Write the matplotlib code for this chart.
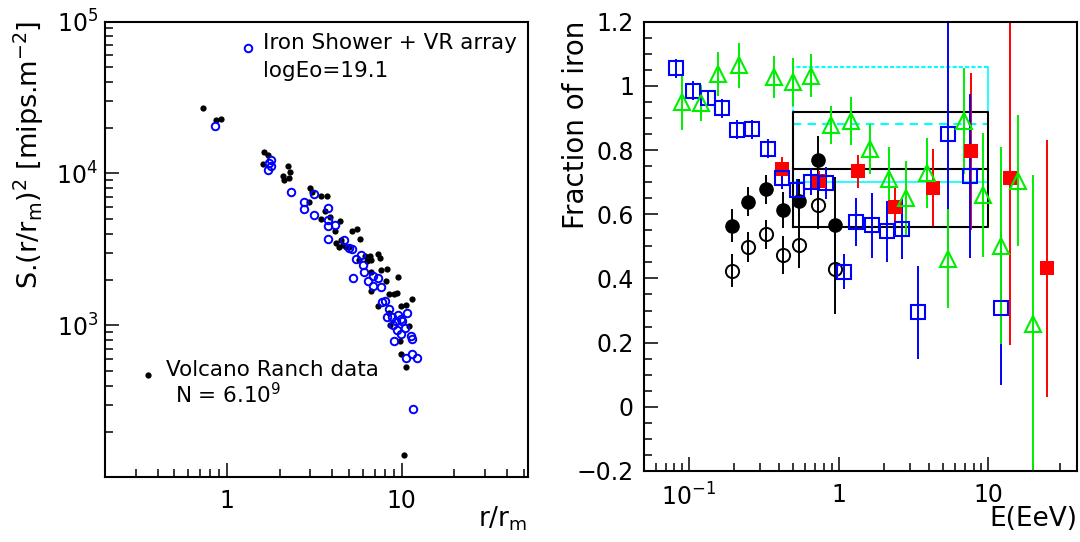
import numpy as np
import matplotlib.pyplot as plt
from matplotlib.ticker import FixedLocator, FixedFormatter, NullFormatter, LogLocator, MultipleLocator

plt.rcParams['font.family'] = ['DejaVu Sans']
plt.rcParams['mathtext.default'] = 'regular'

# left panel: Volcano Ranch events (black) and simulated iron shower (blue)
vr_r = [0.73, 0.865, 0.925, 1.63, 1.72, 1.60, 2.08, 2.12, 2.23, 2.30, 2.28,
        2.99, 3.07, 2.93, 3.47, 3.72, 3.63, 3.47, 4.13, 4.46, 4.52, 4.40,
        4.78, 5.23, 5.52, 5.81, 5.74, 6.14, 6.63, 6.70, 7.37, 7.54, 6.70,
        7.62, 8.26, 6.70, 7.37, 8.18, 8.45, 9.05, 9.6, 9.45, 8.5, 8.6, 9.9,
        10.6, 11.5, 11.1, 9.83, 9.9, 10.6, 10.3, 4.2, 4.6, 5.0, 6.3, 3.9]
vr_s = [27000, 22400, 22700, 13900, 13200, 11500, 9640, 9000, 11200, 10300, 9330,
        7980, 7570, 6460, 7060, 7060, 5690, 5030, 4170, 4860, 3670, 3270,
        3270, 4180, 4300, 3720, 2700, 2850, 2880, 2700, 2950, 2790, 2250,
        2310, 2370, 1690, 1350, 1950, 1620, 1600, 2090, 1640, 1215, 1010, 1350,
        1365, 1485, 995, 785, 645, 530, 141, 3500, 3400, 3300, 2650, 5200]

fe_r = [0.857, 1.71, 1.78, 1.79, 1.74, 2.33, 2.75, 2.76, 3.17, 3.17, 3.80,
        3.77, 3.80, 4.13, 3.80, 4.71, 5.0, 5.23, 5.87, 5.47, 6.05, 5.28,
        6.08, 6.42, 6.88, 7.37, 6.83, 7.62, 7.70, 8.08, 8.45, 8.77, 9.24,
        9.54, 9.9, 10.8, 9.4, 9.9, 10.4, 9.05, 11.3, 11.4, 10.6, 11.5, 12.2,
        8.26, 8.9, 10.1, 11.7]
fe_s = [20500, 10500, 12200, 11200, 11700, 7570, 6490, 5810, 7360, 5310, 5900,
        4910, 4490, 4580, 3730, 3670, 3220, 3190, 2930, 2750, 2510, 2060,
        2260, 1970, 2120, 2060, 1820, 1800, 1420, 1440, 1280, 1140, 1065,
        1170, 1110, 1200, 934, 885, 960, 785, 853, 810, 612, 645, 612,
        1140, 1010, 1065, 284]

# right panel: fraction of iron vs energy
sq_e = [0.0828, 0.107, 0.134, 0.167, 0.210, 0.263, 0.337, 0.420, 0.525, 0.660,
        0.830, 1.08, 1.31, 1.68, 2.11, 2.65, 3.38, 5.35, 7.56, 12.2]
sq_f = [1.055, 0.985, 0.963, 0.930, 0.863, 0.865, 0.804, 0.714, 0.674, 0.701,
        0.696, 0.421, 0.575, 0.565, 0.547, 0.554, 0.294, 0.849, 0.720, 0.308]
sq_err = [0.03, 0.03, 0.025, 0.03, 0.03, 0.03, 0.03, 0.035, 0.035, 0.04,
          0.05, 0.055, 0.075, 0.1, 0.095, 0.095, 0.145, 0.36, 0.255, 0.24]

red_e = [0.420, 0.746, 1.34, 2.37, 4.25, 7.64, 13.9, 24.8]
red_f = [0.742, 0.704, 0.734, 0.623, 0.682, 0.796, 0.712, 0.432]
red_err = [0.037, 0.03, 0.052, 0.062, 0.12, 0.245, 0.52, 0.40]

tri_e = [0.0906, 0.120, 0.157, 0.216, 0.373, 0.500, 0.660, 0.885, 1.22, 1.63,
         2.16, 2.81, 3.89, 5.35, 6.87, 9.2, 12.2, 15.9, 19.9]
tri_f = [0.949, 0.946, 1.038, 1.064, 1.028, 1.012, 1.032, 0.877, 0.890, 0.802,
         0.709, 0.651, 0.728, 0.461, 0.890, 0.660, 0.502, 0.705, 0.257]
tri_err = [0.085, 0.056, 0.069, 0.07, 0.066, 0.075, 0.066, 0.059, 0.074, 0.078,
           0.1, 0.116, 0.11, 0.154, 0.166, 0.194, 0.306, 0.203, 0.466]

fc_e = [0.195, 0.248, 0.330, 0.427, 0.548, 0.734, 0.948]
fc_f = [0.564, 0.639, 0.678, 0.613, 0.642, 0.768, 0.567]
fc_err = [0.051, 0.045, 0.045, 0.056, 0.067, 0.077, 0.15]

oc_e = [0.195, 0.248, 0.330, 0.427, 0.548, 0.734, 0.948]
oc_f = [0.424, 0.499, 0.537, 0.473, 0.504, 0.628, 0.429]
oc_err = [0.051, 0.047, 0.046, 0.058, 0.073, 0.075, 0.14]

box_e = [0.5, 10]
black_box = [0.56, 0.74, 0.92]   # low, mean, high
cyan_box = [0.70, 0.88, 1.06]

fig = plt.figure(figsize=(10.8, 5.42), dpi=100)
ax1 = fig.add_axes([0.0972, 0.1203, 0.3917, 0.840])
ax2 = fig.add_axes([0.596, 0.131, 0.401, 0.829])

for ax in (ax1, ax2):
    for sp in ax.spines.values():
        sp.set_linewidth(1.5)
    ax.tick_params(which='both', direction='in', top=False, right=False,
                   labelsize=17, width=1.1)
    ax.tick_params(which='major', length=10)
    ax.tick_params(which='minor', length=6)

# ---- left panel
ax1.set_xscale('log')
ax1.set_yscale('log')
ax1.plot(vr_r, vr_s, 'o', color='black', ms=4.5, mew=0)
ax1.plot(fe_r, fe_s, 'o', color='none', mec='#0000ff', ms=5.4, mew=1.4)
ax1.set_xlim(0.2, 53)
ax1.set_ylim(101, 1e5)
ax1.xaxis.set_major_locator(FixedLocator([1, 10]))
ax1.xaxis.set_major_formatter(FixedFormatter(['1', '10']))
ax1.xaxis.set_minor_locator(LogLocator(base=10, subs=np.arange(2, 10)))
ax1.xaxis.set_minor_formatter(NullFormatter())
ax1.yaxis.set_minor_formatter(NullFormatter())
ax1.tick_params(axis='x', pad=9)
ax1.tick_params(axis='y', pad=5)

ax1.plot([247.7 / 1080], [1 - 48.4 / 542], 'o', color='none', mec='#0000ff',
         ms=5.4, mew=1.4, transform=fig.transFigure, clip_on=False)
fig.text(263 / 1080, 1 - 43 / 542, 'Iron Shower + VR array', fontsize=15.5,
         va='center', ha='left')
fig.text(263 / 1080, 1 - 71 / 542, 'logEo=19.1', fontsize=15.5,
         va='center', ha='left')
ax1.plot([147.7 / 1080], [1 - 375.4 / 542], 'o', color='black', ms=4.5, mew=0,
         transform=fig.transFigure, clip_on=False)
fig.text(166 / 1080, 1 - 370 / 542, 'Volcano Ranch data', fontsize=15.5,
         va='center', ha='left')
fig.text(175 / 1080, 1 - 395 / 542, r'N = 6.10$^{9}$', fontsize=15.5,
         va='center', ha='left')

fig.text(29 / 1080, 1 - 21 / 542, r'S.(r/r$_{m}$)$^{2}$ [mips.m$^{-2}$]',
         rotation=90, fontsize=19.5, ha='center', va='top')
fig.text(527 / 1080, 1 - 519 / 542, r'r/r$_{m}$', fontsize=19,
         ha='right', va='center')

# ---- right panel
ax2.set_xscale('log')
ax2.set_xlim(0.05, 39)
ax2.set_ylim(-0.2, 1.2)

# model bands
ax2.plot([box_e[0], box_e[1], box_e[1]], [cyan_box[0], cyan_box[0], cyan_box[2]],
         color='cyan', lw=1.2)
ax2.plot([box_e[1], box_e[0], box_e[0]], [cyan_box[2], cyan_box[2], cyan_box[0]],
         color='cyan', lw=1.5, ls=(0, (2, 1)))
ax2.plot(box_e, [cyan_box[1]] * 2, color='cyan', lw=1.5, ls=(0, (4, 3)))
ax2.plot([box_e[0], box_e[1], box_e[1], box_e[0], box_e[0]],
         [black_box[0], black_box[0], black_box[2], black_box[2], black_box[0]],
         color='black', lw=1.5)
ax2.plot(box_e, [black_box[1]] * 2, color='black', lw=1.5)

ax2.errorbar(fc_e, fc_f, yerr=fc_err, fmt='o', color='black', ms=9.5,
             elinewidth=1.4, capsize=0)
ax2.errorbar(oc_e, oc_f, yerr=oc_err, fmt='o', color='black', mfc='none',
             ms=9.5, mew=1.4, elinewidth=1.4, capsize=0)
ax2.errorbar(red_e, red_f, yerr=red_err, fmt='s', color='red', ms=10,
             mew=0, elinewidth=1.4, capsize=0)
ax2.errorbar(sq_e, sq_f, yerr=sq_err, fmt='s', color='#0000ff', mfc='none',
             ms=10, mew=1.5, elinewidth=1.4, capsize=0)
ax2.errorbar(tri_e, tri_f, yerr=tri_err, fmt='^', color='#00ee00', mfc='none',
             ms=11, mew=1.5, elinewidth=1.4, capsize=0)

ax2.xaxis.set_major_locator(FixedLocator([0.1, 1, 10]))
ax2.xaxis.set_major_formatter(FixedFormatter([r'$10^{-1}$', '1', '10']))
ax2.xaxis.set_minor_locator(LogLocator(base=10, subs=np.arange(2, 10)))
ax2.xaxis.set_minor_formatter(NullFormatter())
ax2.set_yticks([-0.2, 0, 0.2, 0.4, 0.6, 0.8, 1.0, 1.2])
ax2.set_yticklabels(['\u22120.2', '0', '0.2', '0.4', '0.6', '0.8', '1', '1.2'])
ax2.yaxis.set_minor_locator(MultipleLocator(0.05))
ax2.tick_params(axis='x', pad=9)
ax2.tick_params(axis='y', pad=7)

fig.text(576 / 1080, 1 - 21 / 542, 'Fraction of iron', rotation=90,
         fontsize=20, ha='center', va='top')
fig.text(1077 / 1080, 1 - 519 / 542, 'E(EeV)', fontsize=19,
         ha='right', va='center')

fig.savefig('out.png', dpi=100)
